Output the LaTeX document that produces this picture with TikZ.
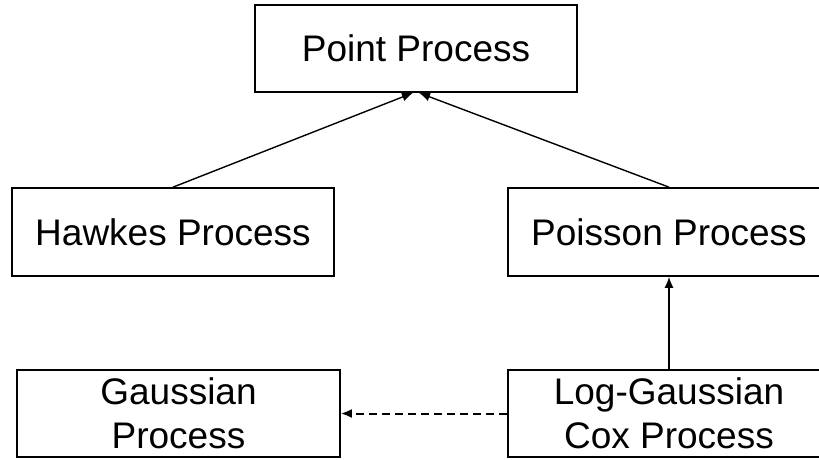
\documentclass[tikz,border=0pt]{standalone}
\usepackage{fontspec}
\setmainfont{Liberation Sans}
\usetikzlibrary{arrows.meta}
\begin{document}
\begin{tikzpicture}[x=1pt,y=-1pt,
  box/.style={draw,line width=1.7pt,inner sep=0pt,align=center,
    font=\fontsize{37}{44.5}\selectfont},
  link/.style={line width=1.4pt,-{Latex[length=11pt,width=9pt]}},
  dlink/.style={line width=2pt,dash pattern=on 8pt off 5pt,-{Latex[length=11pt,width=9pt]}}]
\useasboundingbox (0,0) rectangle (819,459);
\node[box,minimum width=322pt,minimum height=87pt] (point) at (416,48.5) {Point Process};
\node[box,minimum width=322pt,minimum height=88pt] (hawkes) at (173,232) {Hawkes Process};
\node[box,minimum width=322pt,minimum height=88pt] (poisson) at (669,232) {Poisson Process};
\node[box,minimum width=323pt,minimum height=87pt] (gauss) at (178.5,413.5) {Gaussian\\Process};
\node[box,minimum width=322pt,minimum height=87pt] (lgc) at (669,413.5) {Log-Gaussian\\Cox Process};
\draw[link] (hawkes.north) -- ([xshift=-3pt]point.south);
\draw[link] (poisson.north) -- ([xshift=3pt]point.south);
\draw[link] (lgc.north) -- (poisson.south);
\draw[dlink] (lgc.west) -- (gauss.east);
\end{tikzpicture}
\end{document}
